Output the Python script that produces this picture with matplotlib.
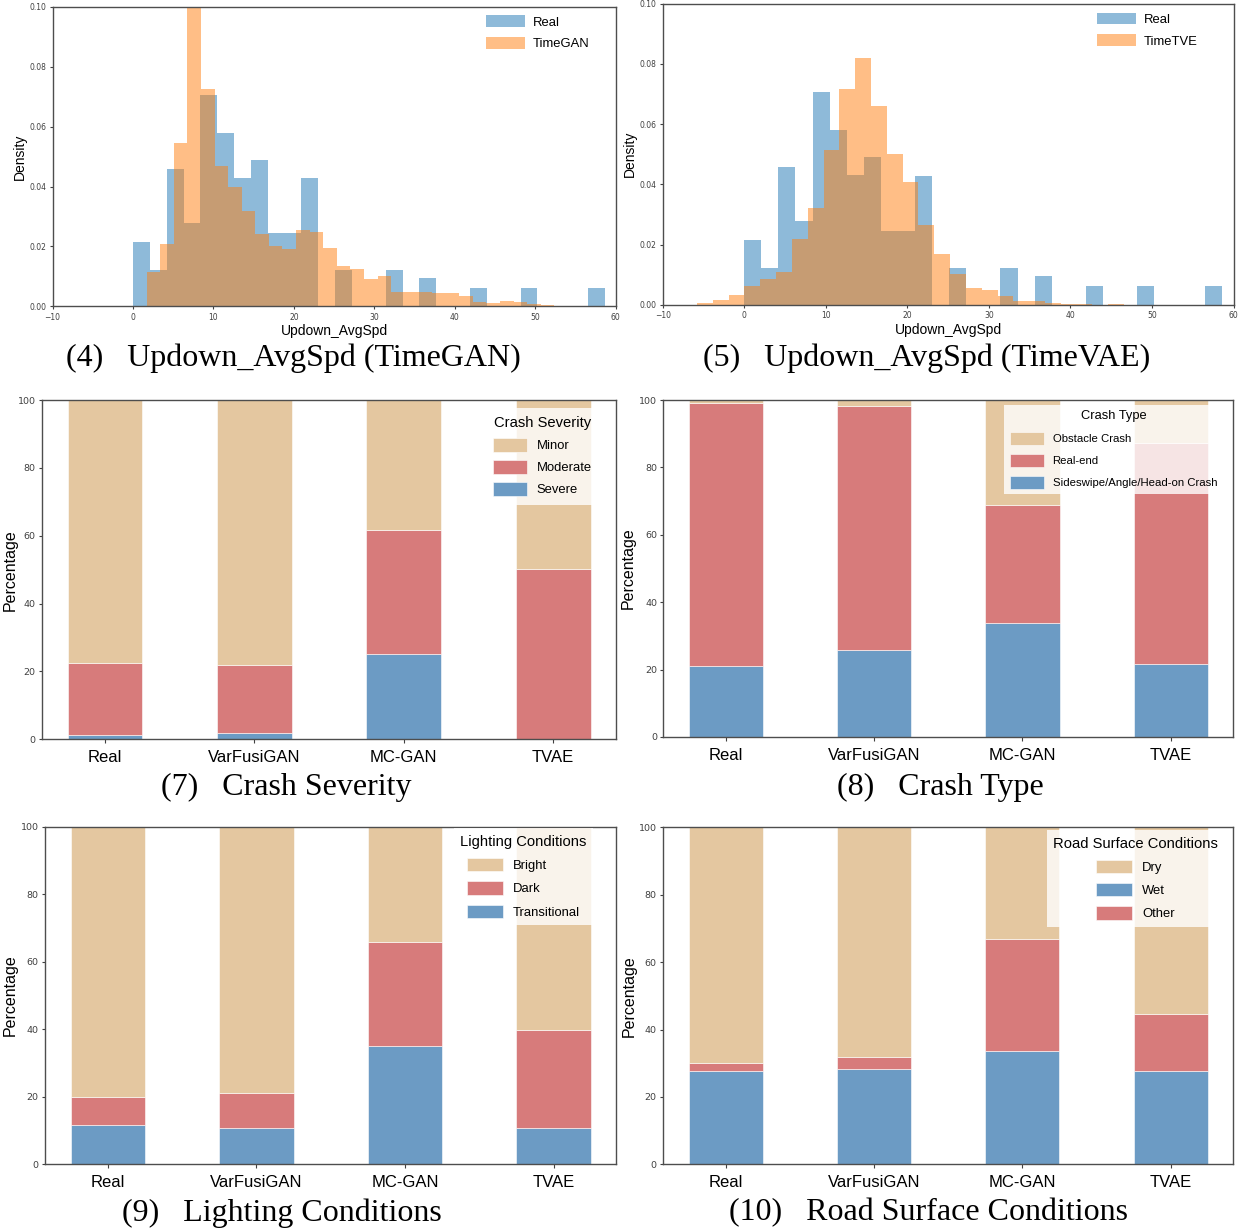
import numpy as np
import matplotlib
matplotlib.use("Agg")
import matplotlib.pyplot as plt

plt.rcParams['font.family'] = ['Liberation Sans', 'DejaVu Sans']

# ---- histogram data (density per bin) ----
real_bins = (0.0, 58.65, 28)
real_density = [0.0214, 0.0121, 0.0459, 0.0277, 0.0705, 0.058, 0.043, 0.049, 0.0245, 0.0245,
                0.0428, 0.0, 0.0121, 0.0, 0.0, 0.0121, 0.0, 0.0094, 0.0, 0.0,
                0.0062, 0.0, 0.0, 0.0062, 0.0, 0.0, 0.0, 0.0062]

timegan_bins = (1.68, 52.38, 30)
timegan_density = [0.0114, 0.0207, 0.0545, 0.1, 0.0725, 0.047, 0.040, 0.032, 0.024, 0.0202,
                   0.019, 0.0255, 0.0248, 0.0194, 0.0136, 0.0126, 0.009, 0.010, 0.0047, 0.0049,
                   0.0047, 0.0045, 0.0046, 0.0036, 0.0016, 0.001, 0.0017, 0.0014, 0.0007, 0.0004]

timevae_bins = (-5.8, 46.58, 27)
timevae_density = [0.0007, 0.0014, 0.0032, 0.0063, 0.0086, 0.0108, 0.0218, 0.032, 0.0514, 0.0718,
                   0.0818, 0.066, 0.050, 0.0406, 0.0265, 0.0167, 0.0103, 0.0056, 0.0048, 0.003,
                   0.0013, 0.0011, 0.0007, 0.0003, 0.0001, 0.0, 0.0002]

# ---- stacked bar data (percentages) ----
methods = ['Real', 'VarFusiGAN', 'MC-GAN', 'TVAE']

sev_severe = [1.3, 1.9, 25.2, 0.2]
sev_moderate = [21.1, 19.9, 36.6, 50.1]
sev_minor = [77.6, 78.2, 38.2, 49.7]

type_sideswipe = [21.2, 25.7, 33.9, 21.6]
type_rear_end = [77.9, 72.4, 34.9, 65.7]
type_obstacle = [0.9, 1.9, 31.2, 12.7]

light_transitional = [11.5, 10.8, 35.0, 10.8]
light_dark = [8.3, 10.4, 30.8, 29.1]
light_bright = [80.2, 78.8, 34.2, 60.1]

road_wet = [27.7, 28.4, 33.6, 27.7]
road_other = [2.5, 3.4, 33.4, 16.8]
road_dry = [69.8, 68.2, 33.0, 55.5]

TAN = '#E4C7A0'
RED = '#D77B7B'
BLUE = '#6C9BC4'

W, H = 1238, 1232
fig = plt.figure(figsize=(W / 100, H / 100), dpi=100)


def box(left, top, right, bottom):
    return [left / W, 1 - bottom / H, (right - left) / W, (bottom - top) / H]


def style_spines(ax):
    for s in ax.spines.values():
        s.set_color('0.3')
        s.set_linewidth(1.0)


def bin_edges(spec):
    start, stop, n = spec
    return np.linspace(start, stop, n + 1)


def draw_hist(ax, gen_bins, gen_density, gen_label, anchor):
    e_real = bin_edges(real_bins)
    e_gen = bin_edges(gen_bins)
    ax.hist(e_real[:-1], bins=e_real, weights=real_density, color='#1f77b4', alpha=0.5, label='Real')
    ax.hist(e_gen[:-1], bins=e_gen, weights=gen_density, color='#ff7f0e', alpha=0.5, label=gen_label)
    ax.set_xlim(-10, 60)
    ax.set_ylim(0, 0.1)
    ax.set_xticks(range(-10, 61, 10))
    ax.set_xticklabels(['\u221210'] + [str(v) for v in range(0, 61, 10)], fontsize=5.5,
                       fontfamily='DejaVu Sans')
    yt = [0.0, 0.02, 0.04, 0.06, 0.08, 0.10]
    ax.set_yticks(yt)
    ax.set_yticklabels([f'{v:.2f}' for v in yt], fontsize=5.5, fontfamily='DejaVu Sans')
    ax.tick_params(length=2.5, width=0.8, pad=2, colors='0.25')
    ax.set_xlabel('Updown_AvgSpd', fontsize=10, labelpad=2)
    ax.set_ylabel('Density', fontsize=10, labelpad=1.5)
    style_spines(ax)
    ax.legend(loc='upper right', bbox_to_anchor=anchor, borderaxespad=0, frameon=False,
              fontsize=9.4, handlelength=3.0, handleheight=1.0, handletextpad=0.6,
              labelspacing=0.65)


def draw_stack(ax, layers, legend_order, title, fs_title, fs_items, anchor, hl, hh, ls, bp, ylab_x):
    x = np.arange(len(methods))
    bottom = np.zeros(len(methods))
    handles = {}
    for vals, color, label in layers:
        b = ax.bar(x, vals, bottom=bottom, width=0.5, color=color, edgecolor='white',
                   linewidth=0.4, label=label)
        handles[label] = b
        bottom = bottom + np.array(vals)
    ax.set_xlim(-0.425, 3.42)
    ax.set_ylim(0, 100)
    ax.set_xticks(x)
    ax.set_xticklabels(methods, fontsize=12)
    yt = [0, 20, 40, 60, 80, 100]
    ax.set_yticks(yt)
    ax.set_yticklabels([str(v) for v in yt], fontsize=6.8, fontfamily='DejaVu Sans')
    ax.tick_params(length=2.5, width=0.8, colors='0.25', pad=1.8)
    ax.tick_params(axis='x', labelcolor='black', pad=5, length=3)
    ax.set_ylabel('Percentage', fontsize=11.5)
    ax.yaxis.set_label_coords(ylab_x, 0.5)
    style_spines(ax)
    leg = ax.legend([handles[k] for k in legend_order], legend_order, title=title,
                    loc='upper right', bbox_to_anchor=anchor, borderaxespad=0,
                    fontsize=fs_items, title_fontsize=fs_title,
                    frameon=True, framealpha=0.8, edgecolor='none', fancybox=False,
                    handlelength=hl, handleheight=hh, handletextpad=0.75,
                    labelspacing=ls, borderpad=bp)
    leg.get_frame().set_linewidth(0)


# (4) TimeGAN
ax4 = fig.add_axes(box(52.6, 7, 615.6, 306.3))
draw_hist(ax4, timegan_bins, timegan_density, 'TimeGAN', (0.963, 0.99))

# (5) TimeVAE
ax5 = fig.add_axes(box(662.7, 3.7, 1233.5, 304.7))
draw_hist(ax5, timevae_bins, timevae_density, 'TimeTVE', (0.947, 0.988))

# (7) Crash Severity
ax7 = fig.add_axes(box(41.5, 400, 616, 739.3))
draw_stack(ax7, [(sev_severe, BLUE, 'Severe'), (sev_moderate, RED, 'Moderate'), (sev_minor, TAN, 'Minor')],
           ['Minor', 'Moderate', 'Severe'], 'Crash Severity', 10.6, 9.4,
           (0.973, 0.977), 2.6, 1.23, 0.6, 0.65, -0.041)

# (8) Crash Type
ax8 = fig.add_axes(box(663, 400, 1233, 737))
draw_stack(ax8, [(type_sideswipe, BLUE, 'Sideswipe/Angle/Head-on Crash'),
                 (type_rear_end, RED, 'Real-end'), (type_obstacle, TAN, 'Obstacle Crash')],
           ['Obstacle Crash', 'Real-end', 'Sideswipe/Angle/Head-on Crash'], 'Crash Type', 9.3, 8.2,
           (0.982, 0.986), 3.0, 1.3, 0.85, 0.5, -0.047)

# (9) Lighting Conditions
ax9 = fig.add_axes(box(44.7, 826.7, 616, 1164.3))
draw_stack(ax9, [(light_transitional, BLUE, 'Transitional'), (light_dark, RED, 'Dark'),
                 (light_bright, TAN, 'Bright')],
           ['Bright', 'Dark', 'Transitional'], 'Lighting Conditions', 10.6, 9.4,
           (0.96, 0.995), 2.75, 1.2, 0.7, 0.5, -0.047)

# (10) Road Surface Conditions
ax10 = fig.add_axes(box(662.7, 827.3, 1233, 1164.3))
draw_stack(ax10, [(road_wet, BLUE, 'Wet'), (road_other, RED, 'Other'), (road_dry, TAN, 'Dry')],
           ['Dry', 'Wet', 'Other'], 'Road Surface Conditions', 10.6, 9.4,
           (0.985, 0.992), 2.75, 1.2, 0.7, 0.5, -0.045)

# captions
captions = [
    ('(4)   Updown_AvgSpd (TimeGAN)', 293.5, 358),
    ('(5)   Updown_AvgSpd (TimeVAE)', 926.5, 358),
    ('(7)   Crash Severity', 286, 787),
    ('(8)   Crash Type', 940, 787),
    ('(9)   Lighting Conditions', 281.5, 1213),
    ('(10)   Road Surface Conditions', 928.5, 1213),
]
for txt, cx, cy in captions:
    fig.text(cx / W, 1 - cy / H, txt, ha='center', va='center', fontsize=23,
             fontfamily='Liberation Serif')

fig.savefig('out.png', dpi=100, facecolor='white')
